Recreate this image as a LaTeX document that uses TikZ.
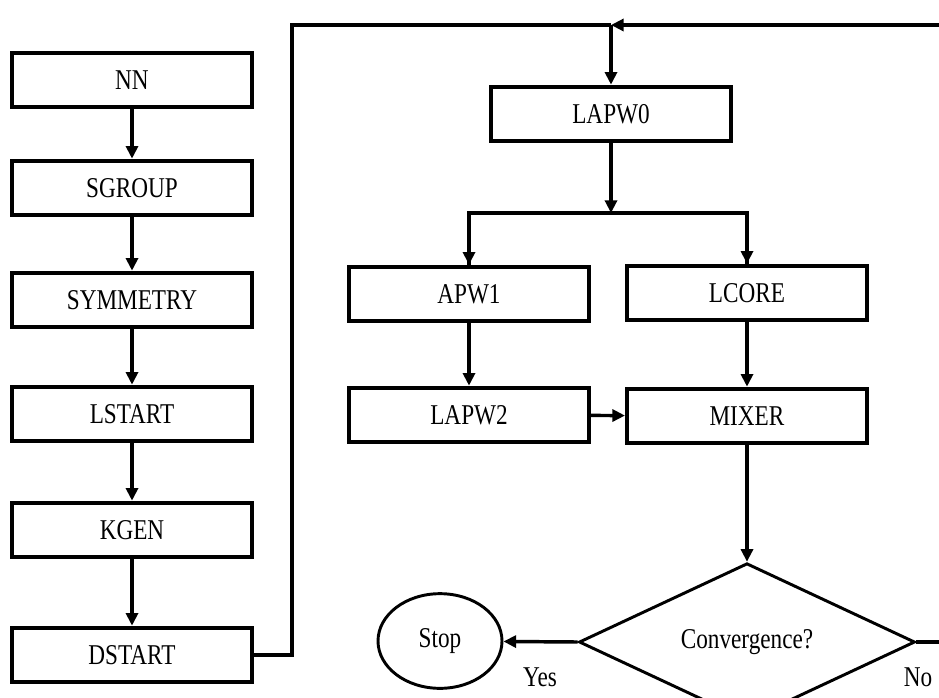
\documentclass[tikz,border=0pt]{standalone}
\usepackage{fontspec}
\setmainfont[FakeStretch=0.81]{Liberation Serif}
\usepackage{tikz}
\usetikzlibrary{shapes.geometric, arrows.meta, positioning}

\begin{document}
\begin{tikzpicture}[x=0.75pt, y=-0.75pt,
        every node/.style={font=\fontsize{21.5}{24}\selectfont},
        box/.style={draw, line width=3pt, minimum width=180pt, minimum height=41pt, inner sep=0pt},
        decision/.style={draw, diamond, line width=2.2pt, minimum width=252pt, minimum height=90pt, inner sep=0pt},
        term/.style={draw, ellipse, line width=2.2pt, minimum width=93pt, minimum height=71pt, inner sep=0pt},
        line/.style={line width=2.6pt},
        arr/.style={line, -{Triangle[length=9.5pt, width=9pt]}}]
        \useasboundingbox (0,0) rectangle (939,697);
        % Initialisation
        \node[box] (nn) at (132,80) {NN};
        \node[box] (sgroup) at (132,188) {SGROUP};
        \node[box] (symmetry) at (132,300) {SYMMETRY};
        \node[box] (lstart) at (132,414) {LSTART};
        \node[box] (kgen) at (132,530) {KGEN};
        \node[box] (dstart) at (132,655) {DSTART};
        % SCF cycle
        \node[box] (lapw0) at (611,114) {LAPW0};
        \node[box] (apw1) at (469,294) {APW1};
        \node[box] (lcore) at (747,293) {LCORE};
        \node[box] (lapw2) at (469,415) {LAPW2};
        \node[box] (mixer) at (747,416) {MIXER};
        \node[decision] (conv) at (747,642) {Convergence?};
        \node[term] (stop) at (440,641) {Stop};
        \node (yes) at (540,677) {Yes};
        \node (no) at (918,677) {No};
        % Coordinates
        \coordinate (up) at (292,25);
        \coordinate (join) at (611,25);
        \coordinate (loopR) at (939,25);
        \coordinate (noR) at (939,642);
        \coordinate (split) at (611,213);
        % Arrows
        \foreach \a/\b in {nn/sgroup, sgroup/symmetry, symmetry/lstart, lstart/kgen, kgen/dstart, apw1/lapw2, lcore/mixer, lapw2/mixer, mixer/conv} {
            \draw[arr] (\a) -- (\b);
        }
        \draw[line] (dstart.east) -| (up) -- (join);
        \draw[arr] (loopR) -- (join);
        \draw[arr] (join) -- (lapw0);
        \draw[arr] (lapw0) -- (split);
        \draw[line] (split) -| (apw1.north);
        \draw[line] (split) -| (lcore.north);
        \draw[arr] (split -| apw1) -- (apw1);
        \draw[arr] (split -| lcore) -- (lcore);
        \draw[arr] (conv.west) -- (stop);
        \draw[line] (conv.east) -- (noR);
    \end{tikzpicture}
\end{document}
